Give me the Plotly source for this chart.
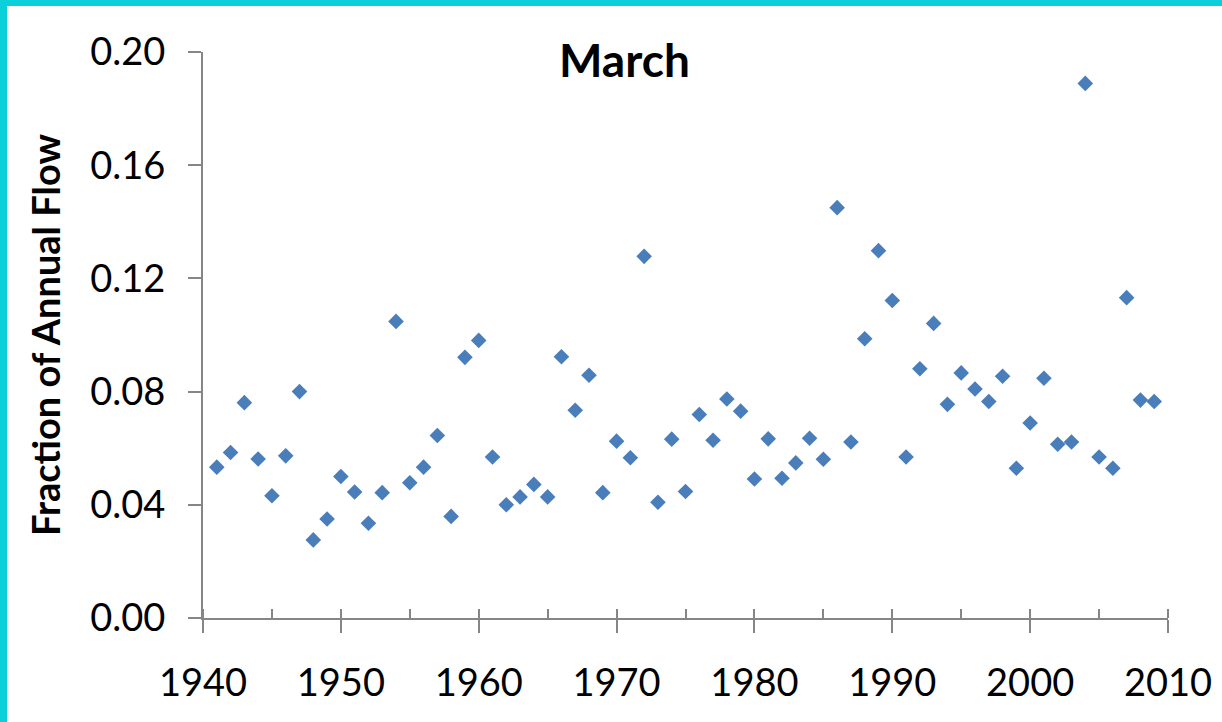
import plotly.graph_objects as go

years = list(range(1941, 2010))
fraction = [
    0.0533, 0.0585, 0.0761, 0.0562, 0.0432, 0.0573, 0.0800, 0.0276, 0.0350,
    0.0500, 0.0445, 0.0335, 0.0443, 0.1048, 0.0478, 0.0533, 0.0645, 0.0359, 0.0921,
    0.0981, 0.0569, 0.0400, 0.0428, 0.0472, 0.0428, 0.0923, 0.0734, 0.0858, 0.0443,
    0.0625, 0.0566, 0.1278, 0.0409, 0.0632, 0.0447, 0.0719, 0.0628, 0.0774, 0.0731,
    0.0491, 0.0633, 0.0494, 0.0548, 0.0635, 0.0561, 0.1450, 0.0622, 0.0987, 0.1298,
    0.1122, 0.0569, 0.0881, 0.1041, 0.0755, 0.0866, 0.0809, 0.0765, 0.0854, 0.0529,
    0.0689, 0.0847, 0.0614, 0.0622, 0.1889, 0.0569, 0.0529, 0.1132, 0.0770, 0.0765,
]
x_ticks = [1940, 1950, 1960, 1970, 1980, 1990, 2000, 2010]
y_ticks = [0.0, 0.04, 0.08, 0.12, 0.16, 0.20]
y_labels = ['0.00', '0.04', '0.08', '0.12', '0.16', '0.20']

W, H = 1222, 722
L, R, T, B = 203, 54, 52, 104
pw, ph = W - L - R, H - T - B
axis_grey = '#868686'
border = '#0bcfd9'
font = 'Lato, Carlito, Calibri, sans-serif'

fig = go.Figure()
fig.add_trace(go.Scatter(x=years, y=fraction, mode='markers',
                         marker=dict(symbol='diamond', size=12, color='#4a7ebb'),
                         cliponaxis=False, showlegend=False))

fig.update_xaxes(range=[1940, 2010], tickvals=x_ticks, ticks='outside', ticklen=13, tickwidth=2,
                 tickcolor=axis_grey, showline=True, linecolor=axis_grey, linewidth=2,
                 showgrid=False, zeroline=False, ticklabelstandoff=17,
                 tickfont=dict(family=font, size=38, color='black'),
                 minor=dict(dtick=5, tick0=1940, ticks='inside', ticklen=9, tickwidth=2,
                            tickcolor=axis_grey, showgrid=False))
fig.update_yaxes(range=[0, 0.2], tickvals=y_ticks, ticktext=y_labels, ticks='outside', ticklen=13,
                 tickwidth=2, tickcolor=axis_grey, showline=True, linecolor=axis_grey, linewidth=2,
                 showgrid=False, zeroline=False, ticklabelstandoff=15,
                 tickfont=dict(family=font, size=38, color='black'))

fig.add_annotation(text='<b>March</b>', xref='paper', yref='paper',
                   x=(624 - L) / pw, y=(H - B - 60) / ph, xanchor='center', yanchor='middle',
                   showarrow=False, font=dict(family=font, size=46, color='black'))
fig.add_annotation(text='<b>Fraction of Annual Flow</b>', xref='paper', yref='paper',
                   x=(45 - L) / pw, y=0.5, xanchor='center', yanchor='middle', textangle=-90,
                   showarrow=False, font=dict(family=font, size=38, color='black'))

# cyan frame along the top and left edges
fig.add_shape(type='rect', xref='paper', yref='paper', line_width=0, fillcolor=border,
              x0=-L / pw, x1=(7 - L) / pw, y0=-B / ph, y1=1 + T / ph)
fig.add_shape(type='rect', xref='paper', yref='paper', line_width=0, fillcolor=border,
              x0=-L / pw, x1=1 + R / pw, y0=1 + (T - 6) / ph, y1=1 + T / ph)

fig.update_layout(width=W, height=H, margin=dict(l=L, r=R, t=T, b=B, autoexpand=False),
                  plot_bgcolor='white', paper_bgcolor='white')
fig.write_html("out.html", config={'displayModeBar': False},
               post_script="document.body.style.margin = '0';")
